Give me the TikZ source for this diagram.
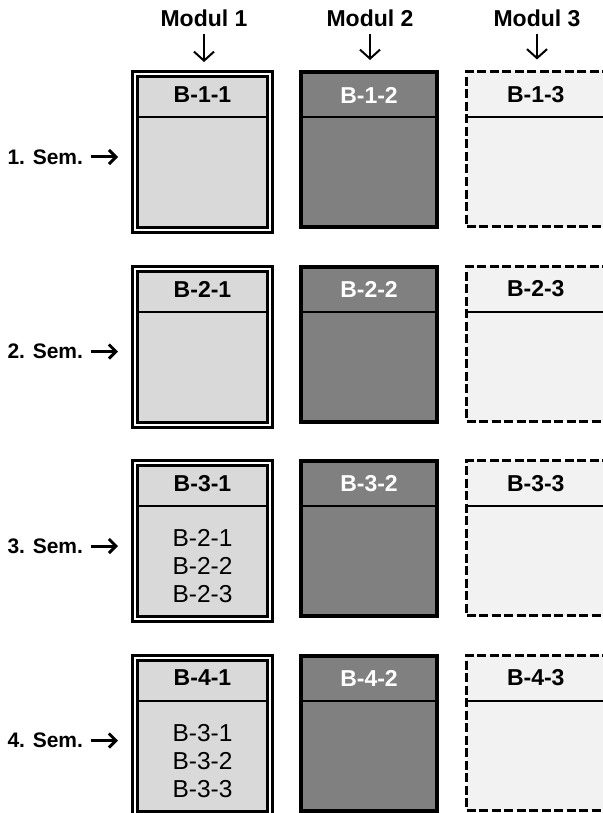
\documentclass[tikz,border=0pt]{standalone}
\usepackage{fontspec}
\setmainfont{Liberation Sans}
\usetikzlibrary{arrows.meta}
\definecolor{lightfill}{RGB}{217,217,217}
\definecolor{darkfill}{RGB}{128,128,128}
\definecolor{palefill}{RGB}{242,242,242}

\begin{document}
\begin{tikzpicture}[x=1pt,y=-1pt,
  every node/.style={inner sep=0pt, outer sep=0pt, font=\fontsize{23}{27}\selectfont},
  boxA/.style={draw, double, line width=3pt, double distance=2pt, fill=lightfill,
    minimum width=135pt, minimum height=156pt},
  boxB/.style={draw, line width=4pt, fill=darkfill, minimum width=136pt, minimum height=155pt},
  boxC/.style={draw, line width=3pt, dash pattern=on 9pt off 3.5pt, fill=palefill,
    minimum width=138.5pt, minimum height=155pt},
  head/.style={font=\bfseries\fontsize{23}{27}\selectfont},
  headW/.style={head, text=white},
  semlabel/.style={anchor=east, font=\bfseries\fontsize{21}{25}\selectfont},
  list/.style={align=center, font=\fontsize{24.5}{28}\selectfont},
  divider/.style={line width=2pt},
  modarrow/.style={line width=2pt, -{Straight Barb[length=9pt,width=20pt]}, shorten <=7pt, shorten >=12pt},
  semarrow/.style={line width=3pt, -{Straight Barb[length=7pt,width=14pt]}, shorten <=8pt, shorten >=17pt}]
      \useasboundingbox (0,0) rectangle (602,813);

      \node(mod1)[head] at (204,18.5) {Modul 1};
      \node(mod2)[head] at (370,18.5) {Modul 2};
      \node(mod3)[head] at (537,18.5) {Modul 3};

       \node(b11)[boxA] at (202.5,152) {};
       \node(h11)[head] at (202.5,95) {B-1-1};
       \node(b12)[boxB] at (369,149.5) {};
       \node(h12)[headW] at (369,95) {B-1-2};
       \node(b13)[boxC] at (535.75,149) {};
       \node(h13)[head] at (535.75,95) {B-1-3};

       \node(b21)[boxA] at (202.5,346.5) {};
       \node(h21)[head] at (202.5,289) {B-2-1};
       \node(b22)[boxB] at (369,344) {};
       \node(h22)[headW] at (369,289) {B-2-2};
       \node(b23)[boxC] at (535.75,343.5) {};
       \node(h23)[head] at (535.75,289) {B-2-3};

       \node(b31)[boxA] at (202.5,541) {};
       \node(h31)[head] at (202.5,483.5) {B-3-1};
       \node(l31)[list] at (202.5,566.5) {B-2-1\\B-2-2\\B-2-3};
       \node(b32)[boxB] at (369,538.5) {};
       \node(h32)[headW] at (369,483.5) {B-3-2};
       \node(b33)[boxC] at (535.75,538) {};
       \node(h33)[head] at (535.75,483.5) {B-3-3};

       \node(b41)[boxA] at (202.5,735.5) {};
       \node(h41)[head] at (202.5,678) {B-4-1};
       \node(l41)[list] at (202.5,761) {B-3-1\\B-3-2\\B-3-3};
       \node(b42)[boxB] at (369,733) {};
       \node(h42)[headW] at (369,678) {B-4-2};
       \node(b43)[boxC] at (535.75,732.5) {};
       \node(h43)[head] at (535.75,678) {B-4-3};

       \draw[divider] ([xshift=4pt,yshift=-43pt]b11.north west) -- ([xshift=-4pt,yshift=-43pt]b11.north east);
       \draw[divider] ([yshift=-45pt]b12.north west) -- ([yshift=-45pt]b12.north east);
       \draw[divider] ([yshift=-45.5pt]b13.north west) -- ([yshift=-45.5pt]b13.north east);
       \draw[divider] ([xshift=4pt,yshift=-43pt]b21.north west) -- ([xshift=-4pt,yshift=-43pt]b21.north east);
       \draw[divider] ([yshift=-45pt]b22.north west) -- ([yshift=-45pt]b22.north east);
       \draw[divider] ([yshift=-45.5pt]b23.north west) -- ([yshift=-45.5pt]b23.north east);
       \draw[divider] ([xshift=4pt,yshift=-43pt]b31.north west) -- ([xshift=-4pt,yshift=-43pt]b31.north east);
       \draw[divider] ([yshift=-45pt]b32.north west) -- ([yshift=-45pt]b32.north east);
       \draw[divider] ([yshift=-45.5pt]b33.north west) -- ([yshift=-45.5pt]b33.north east);
       \draw[divider] ([xshift=4pt,yshift=-43pt]b41.north west) -- ([xshift=-4pt,yshift=-43pt]b41.north east);
       \draw[divider] ([yshift=-45pt]b42.north west) -- ([yshift=-45pt]b42.north east);
       \draw[divider] ([yshift=-45.5pt]b43.north west) -- ([yshift=-45.5pt]b43.north east);

       \node(sem1)[semlabel] at (83,157) {1. Sem.};
       \node(sem2)[semlabel] at (83,351.5) {2. Sem.};
       \node(sem3)[semlabel] at (83,546) {3. Sem.};
       \node(sem4)[semlabel] at (83,740.5) {4. Sem.};

       \draw[modarrow] (mod1) -- (mod1 |- b11.north);
       \draw[modarrow] (mod2) -- (mod2 |- b12.north);
       \draw[modarrow] (mod3) -- (mod3 |- b13.north);

       \draw[semarrow] (sem1) -- (sem1 -| b11.west);
       \draw[semarrow] (sem2) -- (sem2 -| b21.west);
       \draw[semarrow] (sem3) -- (sem3 -| b31.west);
       \draw[semarrow] (sem4) -- (sem4 -| b41.west);
     \end{tikzpicture}
\end{document}
